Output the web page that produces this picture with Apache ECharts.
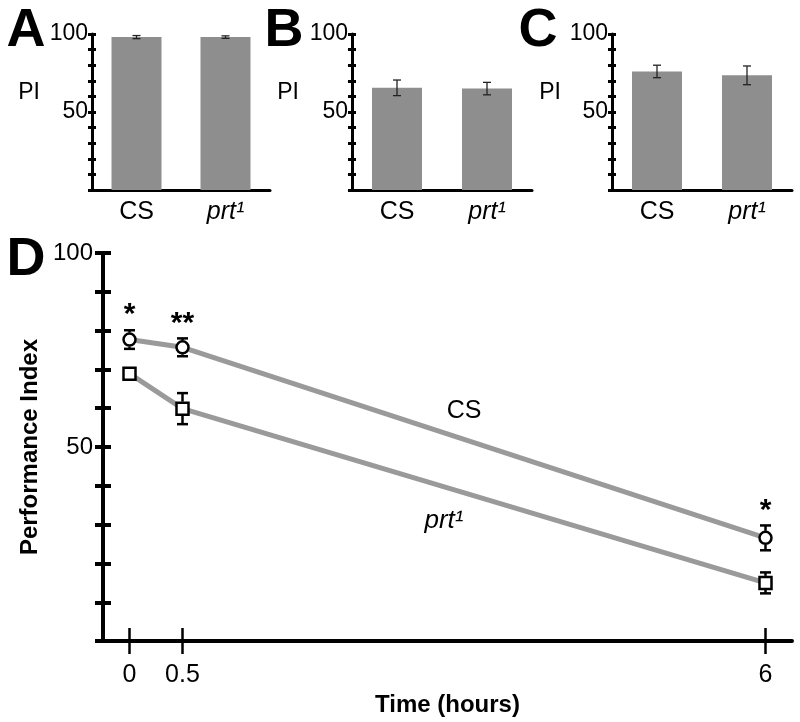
<!DOCTYPE html>
<html>
<head>
<meta charset="utf-8">
<script src="https://cdn.jsdelivr.net/npm/echarts@6/dist/echarts.min.js"></script>
<style>html,body{margin:0;padding:0;background:#fff}#c{width:800px;height:722px}</style>
</head>
<body>
<div id="c"></div>
<script>
// ---- data ----
var genotypes = ['CS', 'prt¹'];
var panelAMean = [98, 98];
var panelAErr = [1, 0.8];
var panelBMean = [65.5, 65];
var panelBErr = [5, 4];
var panelCMean = [76, 73.5];
var panelCErr = [4, 6];

var timeHours = [0, 0.5, 6];
var csMean = [77.7, 75.7, 26.6];
var csErr = [2.4, 2.3, 3.2];
var prtMean = [68.9, 59.9, 15.0];
var prtErr = [1.0, 4.0, 2.7];
var significance = ['*', '**', '*'];

var barTicks = [50, 100];
var lineYTicks = [50, 100];
var timeTicks = [0, 0.5, 6];

// ---- styles ----
var FONT = '"Liberation Sans", Arial, Helvetica, sans-serif';
var BLACK = '#000';
var BAR_GREY = '#8e8e8e';
var LINE_GREY = '#9a9a9a';

var chart = echarts.init(document.getElementById('c'), null, {renderer: 'canvas'});

var barGrids = [
  {left: 92, top: 34, width: 178, height: 156},
  {left: 352, top: 34, width: 180, height: 156},
  {left: 612, top: 34, width: 180, height: 156}
];
var grids = barGrids.concat([{left: 103, top: 253, width: 689, height: 392}]);

var xAxes = [], yAxes = [], series = [];

function catLabel(v) { return v === 'prt¹' ? '{i|prt¹}' : '{n|' + v + '}'; }

var barMeans = [panelAMean, panelBMean, panelCMean];
var barErrs = [panelAErr, panelBErr, panelCErr];

for (var g = 0; g < 3; g++) {
  xAxes.push({
    type: 'category', gridIndex: g, data: genotypes, position: 'bottom',
    axisLine: {lineStyle: {color: BLACK, width: 3}},
    axisTick: {show: false},
    axisLabel: {
      margin: 10, formatter: catLabel,
      rich: {
        n: {fontFamily: FONT, fontSize: 25, color: BLACK},
        i: {fontFamily: FONT, fontSize: 25, fontStyle: 'italic', color: BLACK}
      }
    },
    splitLine: {show: false}
  });
  // outer ticks + labels
  yAxes.push({
    type: 'value', gridIndex: g, min: 0, max: 100, interval: 10, position: 'left',
    axisLine: {show: true, lineStyle: {color: BLACK, width: 3}},
    axisTick: {show: true, length: 4, lineStyle: {color: BLACK, width: 3}},
    axisLabel: {customValues: barTicks, fontFamily: FONT, fontSize: 23, color: BLACK, margin: 4},
    splitLine: {show: false}
  });
  // inner ticks
  yAxes.push({
    type: 'value', gridIndex: g, min: 0, max: 100, interval: 10, position: 'left',
    axisLine: {show: false},
    axisTick: {show: true, inside: true, length: 4, lineStyle: {color: BLACK, width: 3}},
    axisLabel: {show: false},
    splitLine: {show: false}
  });
  series.push({
    type: 'bar', xAxisIndex: g, yAxisIndex: g * 2,
    data: barMeans[g], barWidth: 50,
    itemStyle: {color: BAR_GREY}, z: 2
  });
  var eb = barMeans[g].map(function (m, i) { return [i, m + barErrs[g][i], m - barErrs[g][i]]; });
  series.push({
    type: 'custom', xAxisIndex: g, yAxisIndex: g * 2, data: eb, z: 5,
    renderItem: function (params, api) {
      var hi = api.coord([api.value(0), api.value(1)]);
      var lo = api.coord([api.value(0), api.value(2)]);
      var w = 4;
      var st = {stroke: '#222', lineWidth: 1.3};
      return {type: 'group', children: [
        {type: 'line', shape: {x1: hi[0], y1: hi[1], x2: lo[0], y2: lo[1]}, style: st},
        {type: 'line', shape: {x1: hi[0] - w, y1: hi[1], x2: hi[0] + w, y2: hi[1]}, style: st},
        {type: 'line', shape: {x1: lo[0] - w, y1: lo[1], x2: lo[0] + w, y2: lo[1]}, style: st}
      ]};
    }
  });
}

// ---- panel D ----
xAxes.push({
  type: 'value', gridIndex: 3, min: -0.25, max: 6.25, position: 'bottom',
  name: 'Time (hours)', nameLocation: 'middle', nameGap: 48,
  nameTextStyle: {fontFamily: FONT, fontSize: 24, fontWeight: 'bold', color: BLACK},
  axisLine: {show: true, onZero: false, lineStyle: {color: BLACK, width: 4}},
  axisTick: {show: true, customValues: timeTicks, length: 13, lineStyle: {color: BLACK, width: 2.5}},
  axisLabel: {customValues: timeTicks, fontFamily: FONT, fontSize: 25, color: BLACK, margin: 22},
  splitLine: {show: false}
});
xAxes.push({
  type: 'value', gridIndex: 3, min: -0.25, max: 6.25, position: 'bottom',
  axisLine: {show: false, onZero: false},
  axisTick: {show: true, inside: true, customValues: timeTicks, length: 13, lineStyle: {color: BLACK, width: 2.5}},
  axisLabel: {show: false},
  splitLine: {show: false}
});
yAxes.push({
  type: 'value', gridIndex: 3, min: 0, max: 100, interval: 10, position: 'left',
  name: 'Performance Index', nameLocation: 'middle', nameGap: 56, nameRotate: 90,
  nameTextStyle: {fontFamily: FONT, fontSize: 24, fontWeight: 'bold', color: BLACK},
  axisLine: {show: true, onZero: false, lineStyle: {color: BLACK, width: 4}},
  axisTick: {show: true, length: 8, lineStyle: {color: BLACK, width: 4}},
  axisLabel: {customValues: lineYTicks, fontFamily: FONT, fontSize: 24, color: BLACK, margin: 10},
  splitLine: {show: false}
});
yAxes.push({
  type: 'value', gridIndex: 3, min: 0, max: 100, interval: 10, position: 'left',
  axisLine: {show: false, onZero: false},
  axisTick: {show: true, inside: true, length: 8, lineStyle: {color: BLACK, width: 4}},
  axisLabel: {show: false},
  splitLine: {show: false}
});

function pairs(xs, ys) { return xs.map(function (x, i) { return [x, ys[i]]; }); }
function errRows(xs, ms, es) { return xs.map(function (x, i) { return [x, ms[i], es[i]]; }); }

series.push({
  type: 'line', xAxisIndex: 3, yAxisIndex: 6, data: pairs(timeHours, csMean),
  lineStyle: {color: LINE_GREY, width: 5}, symbol: 'circle', symbolSize: 12,
  itemStyle: {color: '#fff', borderColor: BLACK, borderWidth: 2.5}, z: 3, animation: false
});
series.push({
  type: 'line', xAxisIndex: 3, yAxisIndex: 6, data: pairs(timeHours, prtMean),
  lineStyle: {color: LINE_GREY, width: 5}, symbol: 'rect', symbolSize: 12,
  itemStyle: {color: '#fff', borderColor: BLACK, borderWidth: 2.5}, z: 3, animation: false
});

function errRender(params, api) {
  var x = api.value(0), m = api.value(1), e = api.value(2);
  var c = api.coord([x, m]);
  var hi = api.coord([x, m + e]);
  var lo = api.coord([x, m - e]);
  var r = 7, w = 5.5;
  var st = {stroke: BLACK, lineWidth: 2.5};
  var ch = [];
  if (hi[1] < c[1] - r) {
    ch.push({type: 'line', shape: {x1: c[0], y1: hi[1], x2: c[0], y2: c[1] - r}, style: st});
    ch.push({type: 'line', shape: {x1: c[0] - w, y1: hi[1], x2: c[0] + w, y2: hi[1]}, style: st});
  }
  if (lo[1] > c[1] + r) {
    ch.push({type: 'line', shape: {x1: c[0], y1: c[1] + r, x2: c[0], y2: lo[1]}, style: st});
    ch.push({type: 'line', shape: {x1: c[0] - w, y1: lo[1], x2: c[0] + w, y2: lo[1]}, style: st});
  }
  return {type: 'group', children: ch};
}
series.push({type: 'custom', xAxisIndex: 3, yAxisIndex: 6, data: errRows(timeHours, csMean, csErr), renderItem: errRender, z: 6});
series.push({type: 'custom', xAxisIndex: 3, yAxisIndex: 6, data: errRows(timeHours, prtMean, prtErr), renderItem: errRender, z: 6});

// significance stars above CS error bars
series.push({
  type: 'custom', xAxisIndex: 3, yAxisIndex: 6, z: 6,
  data: timeHours.map(function (x, i) { return [x, csMean[i] + csErr[i], i]; }),
  renderItem: function (params, api) {
    var p = api.coord([api.value(0), api.value(1)]);
    return {type: 'text', style: {
      text: significance[api.value(2)], x: p[0], y: p[1] - 15,
      font: 'bold 30px ' + FONT, fill: BLACK, textAlign: 'center', textVerticalAlign: 'middle'
    }};
  }
});

var letterFont = 'bold 54px ' + FONT;
var labFont = '23px ' + FONT;
var graphic = [
  {type: 'text', style: {text: 'A', x: 26, y: 31, font: letterFont, fill: BLACK, textAlign: 'center', textVerticalAlign: 'middle'}},
  {type: 'text', style: {text: 'B', x: 284, y: 31, font: letterFont, fill: BLACK, textAlign: 'center', textVerticalAlign: 'middle'}},
  {type: 'text', style: {text: 'C', x: 538, y: 31, font: letterFont, fill: BLACK, textAlign: 'center', textVerticalAlign: 'middle'}},
  {type: 'text', style: {text: 'D', x: 26, y: 260, font: letterFont, fill: BLACK, textAlign: 'center', textVerticalAlign: 'middle'}},
  {type: 'text', style: {text: 'PI', x: 29, y: 93, font: labFont, fill: BLACK, textAlign: 'center', textVerticalAlign: 'middle'}},
  {type: 'text', style: {text: 'PI', x: 288, y: 93, font: labFont, fill: BLACK, textAlign: 'center', textVerticalAlign: 'middle'}},
  {type: 'text', style: {text: 'PI', x: 550, y: 93, font: labFont, fill: BLACK, textAlign: 'center', textVerticalAlign: 'middle'}},
  {type: 'text', style: {text: 'CS', x: 464, y: 411, font: '25px ' + FONT, fill: BLACK, textAlign: 'center', textVerticalAlign: 'middle'}},
  {type: 'text', style: {text: 'prt¹', x: 444, y: 521, font: 'italic 26px ' + FONT, fill: BLACK, textAlign: 'center', textVerticalAlign: 'middle'}}
];

chart.setOption({
  animation: false,
  backgroundColor: '#fff',
  grid: grids,
  xAxis: xAxes,
  yAxis: yAxes,
  series: series,
  graphic: graphic
});
</script>
</body>
</html>
